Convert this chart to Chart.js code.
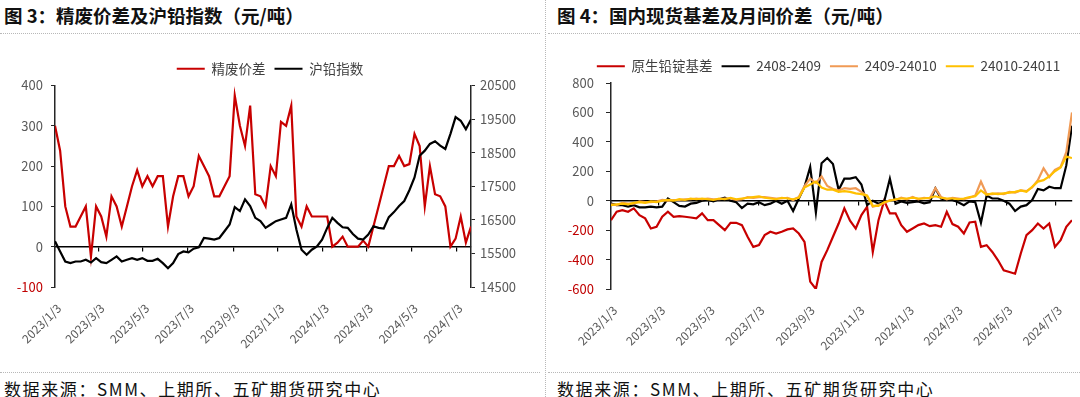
<!DOCTYPE html>
<html>
<head>
<meta charset="utf-8">
<script src="https://cdn.jsdelivr.net/npm/chart.js@4"></script>
<style>
  html, body { margin: 0; padding: 0; background: #fff; overflow: hidden; }
  body { width: 1080px; height: 397px; position: relative; font-family: "Noto Sans CJK SC", "Noto Sans", sans-serif; }
  .title { position: absolute; top: 4px; font-size: 18.5px; font-weight: bold; color: #111; line-height: 22px; white-space: nowrap; }
  .source { position: absolute; top: 379px; font-size: 17px; color: #111; line-height: 20px; letter-spacing: 1.6px; white-space: nowrap; }
  .hdot { position: absolute; height: 0; border-top: 1px dotted #b8b8b8; }
  .vdot { position: absolute; width: 0; border-left: 1px dotted #b8b8b8; }
  .box { position: absolute; }
</style>
</head>
<body>
<div class="title" style="left:4px">图 3：精废价差及沪铅指数（元/吨）</div>
<div class="title" style="left:557px">图 4：国内现货基差及月间价差（元/吨）</div>
<div class="hdot" style="left:0;width:540px;top:33px"></div>
<div class="hdot" style="left:548px;width:532px;top:33px"></div>
<div class="hdot" style="left:0;width:540px;top:372px"></div>
<div class="hdot" style="left:548px;width:532px;top:372px"></div>
<div class="vdot" style="left:545px;top:0;height:397px"></div>
<div class="box" style="left:0;top:45px;width:540px;height:325px"><canvas id="chart_left"></canvas></div>
<div class="box" style="left:560px;top:42px;width:537px;height:330px"><canvas id="chart_right"></canvas></div>
<div class="source" style="left:4px">数据来源：SMM、上期所、五矿期货研究中心</div>
<div class="source" style="left:557px">数据来源：SMM、上期所、五矿期货研究中心</div>

<script>
// weekly readings, first one on 2023/1/3
const startDate = '2023/1/3';
const stepDays = 7;
const tickLabels = ['2023/1/3', '2023/3/3', '2023/5/3', '2023/7/3', '2023/9/3',
    '2023/11/3', '2024/1/3', '2024/3/3', '2024/5/3', '2024/7/3'];

// 图3
const scrapSpread = [300, 238, 100, 50, 50, 75, 100, -25, 100, 75, 25, 125, 100, 50, 100, 150, 190, 150, 175, 150,
    175, 175, 50, 125, 175, 175, 125, 150, 225, 200, 175, 125, 125, 150, 175, 375, 300, 250, 350, 130,
    125, 100, 200, 175, 310, 300, 350, 75, 50, 100, 75, 75, 75, 75, 0, 10, 25, 0, 0, 0,
    15, 0, 50, 100, 150, 200, 200, 225, 200, 205, 280, 250, 100, 200, 130, 125, 100, 0, 20, 75,
    10, 50];
const leadIndex = [15860, 15560, 15260, 15210, 15260, 15260, 15310, 15230, 15360, 15240, 15210, 15310, 15410, 15260, 15310, 15360, 15310, 15360, 15280, 15280,
    15340, 15210, 15060, 15210, 15480, 15560, 15530, 15640, 15680, 15960, 15940, 15910, 15960, 16160, 16360, 16880, 16760, 17110, 16910, 16560,
    16460, 16260, 16360, 16460, 16510, 16560, 16960, 16210, 15610, 15460, 15610, 15710, 15910, 16260, 16560, 16410, 16280, 16260, 16080, 15940,
    15910, 16060, 16310, 16260, 16240, 16580, 16730, 16910, 17060, 17380, 17760, 18410, 18560, 18760, 18840, 18710, 18610, 19060, 19560, 19450,
    19200, 19490];
const spreadTicks = [-100, 0, 100, 200, 300, 400];
const indexTicks = [14500, 15500, 16500, 17500, 18500, 19500, 20500];

// 图4
const basis = [-132, -75, -64, -75, -52, -98, -120, -189, -177, -109, -75, -109, -105, -109, -114, -120, -86, -132, -132, -166,
    -200, -150, -150, -166, -245, -314, -302, -234, -211, -223, -211, -195, -189, -223, -280, -550, -600, -416, -336, -245,
    -155, -52, -136, -189, -98, -41, -348, -132, 0, -86, -86, -166, -211, -189, -166, -155, -173, -166, -177, -75,
    -159, -177, -223, -148, -143, -314, -302, -348, -405, -473, -484, -496, -359, -234, -200, -155, -189, -155, -314, -268,
    -177, -132];
const spread0809 = [-20, -30, -30, -40, -30, -45, -45, -40, -45, -40, 15, -10, -35, -40, -20, -15, 0, 5, -5, 10,
    20, 0, -10, -50, -20, -25, -10, -30, -20, 0, -20, 0, -70, 15, 95, 230, -80, 255, 290, 250,
    73, 150, 150, 160, 110, -30, 0, -20, -5, 150, -20, -5, -15, -10, -5, -18, -10, 84, 15, 5,
    5, -10, -30, -5, -10, -150, 35, 15, 15, 0, -20, -70, -40, -30, 5, 80, 70, 95, 85, 85,
    240, 510];
const spread0910 = [-25, -30, -15, -20, -20, -5, -10, -10, -5, 5, 0, 5, 5, 10, 10, 15, 10, 15, 10, 10,
    15, 15, 5, 10, 25, 20, 25, 25, 20, 15, 15, 20, 5, 25, 100, 150, 120, 165, 100, 80,
    70, 85, 80, 85, 60, 30, -40, -30, -15, 5, 5, 20, 10, 25, 10, 20, 15, 85, 25, 10,
    20, 15, 10, 20, 35, 130, 45, 45, 50, 45, 60, 55, 70, 65, 90, 140, 220, 160, 210, 230,
    330, 600];
const spread1011 = [-30, -25, -20, -25, -15, -10, -15, -5, -10, 0, 5, 0, 10, 5, 15, 10, 15, 10, 5, 15,
    10, 20, 10, 15, 20, 25, 30, 20, 15, 10, 20, 15, 10, 20, 90, 110, 130, 90, 75, 75,
    60, 65, 60, 50, 45, 35, -35, -35, -10, 0, 10, 15, 15, 20, 15, 15, 20, 30, 20, 15,
    15, 10, 15, 25, 30, 70, 40, 50, 45, 50, 55, 60, 70, 60, 95, 130, 140, 165, 200, 225,
    300, 290];
const basisTicks = [-600, -400, -200, 0, 200, 400, 600, 800];

const AXIS_GREY = '#595959';
const NEG_RED = '#C00000';
const LAST_DAY = 567;

function dayOf(s) {
    const p = s.split('/').map(Number);
    const q = startDate.split('/').map(Number);
    return Math.round((Date.UTC(p[0], p[1] - 1, p[2]) - Date.UTC(q[0], q[1] - 1, q[2])) / 86400000);
}
const tickDays = tickLabels.map(dayOf);

function toPoints(values) {
    return values.map((v, i) => ({x: i * stepDays, y: v}));
}

function setTicks(list) {
    return scale => { scale.ticks = list.map(v => ({value: v})); };
}

function line(label, values, color, axis, order) {
    return {
        label: label,
        data: toPoints(values),
        borderColor: color,
        backgroundColor: color,
        borderWidth: 2.2,
        pointRadius: 0,
        tension: 0,
        yAxisID: axis,
        order: order
    };
}

function xAxes() {
    return {
        x: {
            type: 'linear',
            min: 0,
            max: LAST_DAY,
            afterBuildTicks: setTicks(tickDays),
            afterFit: s => { s.height = 83; },
            border: {display: false},
            grid: {display: false},
            ticks: {
                autoSkip: false,
                maxRotation: 45,
                minRotation: 45,
                padding: 6,
                labelOffset: 4,
                color: AXIS_GREY,
                font: {size: 12},
                callback: (v, i) => tickLabels[i]
            }
        },
        x2: {
            type: 'linear',
            axis: 'x',
            position: {y: 0},
            min: 0,
            max: LAST_DAY,
            afterBuildTicks: setTicks(tickDays),
            border: {display: true, color: '#000', width: 1.5},
            grid: {drawOnChartArea: false, drawTicks: true, tickLength: 4, color: '#000', lineWidth: 1.2},
            ticks: {display: false}
        }
    };
}

function legendOptions() {
    return {
        display: true,
        position: 'top',
        labels: {
            usePointStyle: true,
            pointStyle: 'line',
            pointStyleWidth: 28,
            padding: 9,
            color: '#404040',
            font: {size: 13.5},
            sort: (a, b) => a.datasetIndex - b.datasetIndex
        }
    };
}

Chart.defaults.font.family = '"Noto Sans CJK SC", "Noto Sans", sans-serif';
Chart.defaults.animation = false;

const leftScales = xAxes();
leftScales.y = {
    position: 'left',
    min: -100,
    max: 400,
    afterBuildTicks: setTicks(spreadTicks),
    afterFit: s => { s.width = 55; },
    border: {display: true, color: '#262626', width: 1.5},
    grid: {drawOnChartArea: false, drawTicks: true, tickLength: 4, color: '#262626'},
    ticks: {
        padding: 8,
        font: {size: 13},
        color: c => c.tick.value < 0 ? NEG_RED : AXIS_GREY,
        callback: v => String(v)
    }
};
leftScales.y1 = {
    position: 'right',
    min: 14500,
    max: 20500,
    afterBuildTicks: setTicks(indexTicks),
    afterFit: s => { s.width = 69; },
    border: {display: true, color: '#262626', width: 1.5},
    grid: {drawOnChartArea: false, drawTicks: true, tickLength: 4, color: '#262626'},
    ticks: {padding: 5, font: {size: 13}, color: AXIS_GREY, callback: v => String(v)}
};

new Chart(document.getElementById('chart_left'), {
    type: 'line',
    data: {
        datasets: [
            line('精废价差', scrapSpread, '#C80000', 'y', 1),
            line('沪铅指数', leadIndex, '#000000', 'y1', 0)
        ]
    },
    options: {
        responsive: true,
        maintainAspectRatio: false,
        layout: {padding: {top: 8, left: 0, right: 0, bottom: 0}},
        plugins: {legend: legendOptions(), tooltip: {enabled: false}},
        scales: leftScales
    }
});

const rightScales = xAxes();
rightScales.y = {
    position: 'left',
    min: -600,
    max: 800,
    afterBuildTicks: setTicks(basisTicks),
    afterFit: s => { s.width = 51; },
    border: {display: true, color: '#262626', width: 1.5},
    grid: {drawOnChartArea: false, drawTicks: true, tickLength: 5, color: '#262626'},
    ticks: {
        padding: 12,
        font: {size: 13},
        color: c => c.tick.value < 0 ? NEG_RED : AXIS_GREY,
        callback: v => String(v)
    }
};
// empty right-hand strip so the legend stays centred over the whole panel
rightScales.yPad = {
    position: 'right',
    min: -600,
    max: 800,
    afterFit: s => { s.width = 25; },
    border: {display: false},
    grid: {display: false},
    ticks: {display: false}
};

new Chart(document.getElementById('chart_right'), {
    type: 'line',
    data: {
        datasets: [
            line('原生铅锭基差', basis, '#C80000', 'y', 3),
            line('2408-2409', spread0809, '#000000', 'y', 2),
            line('2409-24010', spread0910, '#F09A55', 'y', 1),
            line('24010-24011', spread1011, '#FFC000', 'y', 0)
        ]
    },
    options: {
        responsive: true,
        maintainAspectRatio: false,
        layout: {padding: {top: 8.5, left: 0, right: 0, bottom: 0}},
        plugins: {legend: legendOptions(), tooltip: {enabled: false}},
        scales: rightScales
    }
});
</script>
</body>
</html>
